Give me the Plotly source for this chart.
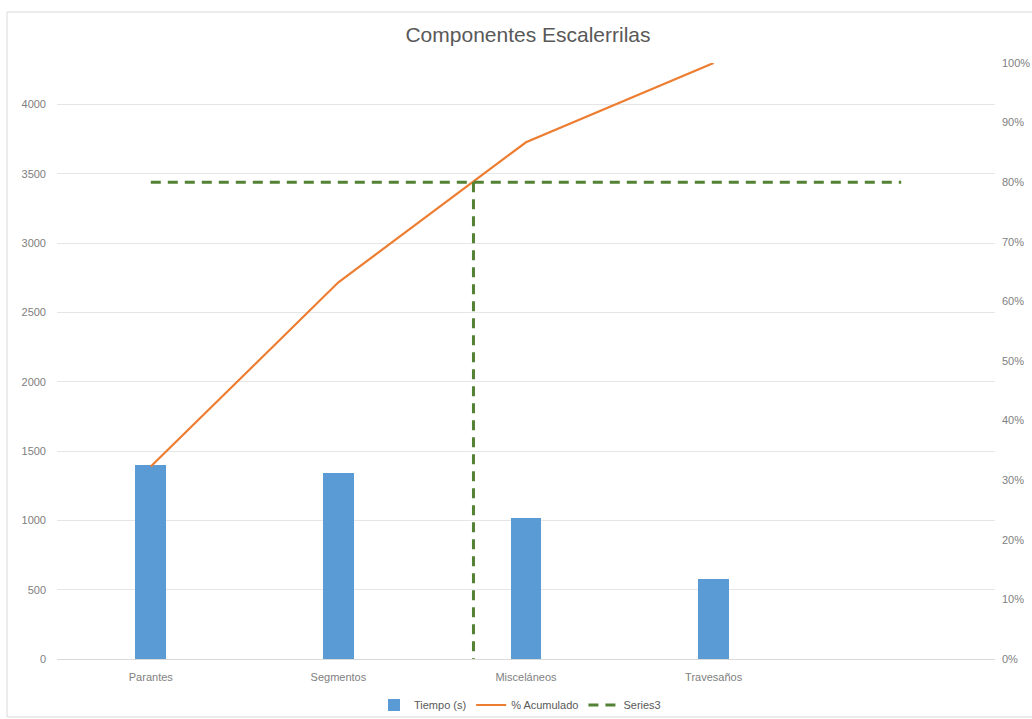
import plotly.graph_objects as go

# Component times and cumulative share
categorias = ["Parantes", "Segmentos", "Misceláneos", "Travesaños"]
tiempo_s = [1400, 1340, 1020, 575]
acumulado_pct = [0.323, 0.632, 0.867, 1.00]

# 80 % reference: horizontal line across categories, vertical drop at the crossing point
serie3_x = [0, 4, None, 1.72, 1.72]
serie3_y = [0.80, 0.80, None, 0.80, 0.0]

idx = list(range(len(categorias)))

W, H = 1032, 719
L, R, T, B = 57, 37, 63, 60
pw, ph = W - L - R, H - T - B

def px_x(p):
    return (p - L) / pw

def px_y(p):
    return (H - B - p) / ph

fig = go.Figure()

fig.add_trace(go.Bar(
    x=idx, y=tiempo_s, name="Tiempo (s)",
    marker=dict(color="#5B9BD5", line=dict(width=0)),
    width=0.165, yaxis="y",
))
fig.add_trace(go.Scatter(
    x=idx, y=acumulado_pct, name="% Acumulado", mode="lines",
    line=dict(color="#ED7D31", width=2.2), yaxis="y2",
))
fig.add_trace(go.Scatter(
    x=serie3_x, y=serie3_y, name="Series3", mode="lines",
    line=dict(color="#548235", width=3, dash="10px,7px"), yaxis="y2",
    connectgaps=False,
))

tick_font = dict(family="Liberation Sans", size=11, color="#808080")

fig.update_layout(
    width=W, height=H,
    margin=dict(l=L, r=R, t=T, b=B, pad=0, autoexpand=False),
    paper_bgcolor="white", plot_bgcolor="white",
    title=dict(
        text="Componentes Escalerrilas",
        font=dict(family="Liberation Sans", size=21, color="#595959"),
        x=px_x(528), xref="paper", xanchor="center",
        y=1 - 35 / H, yanchor="middle",
    ),
    xaxis=dict(
        range=[-0.5, 4.5], tickvals=idx, ticktext=categorias,
        showgrid=False, zeroline=False, showline=True,
        linecolor="#D9D9D9", linewidth=1, ticks="",
        tickfont=tick_font, ticklabelstandoff=8, automargin=False,
    ),
    yaxis=dict(
        range=[0, 4300], tickvals=list(range(0, 4001, 500)),
        showgrid=True, gridcolor="#E6E6E6", gridwidth=1,
        zeroline=False, showline=False, ticks="",
        tickfont=tick_font, ticklabelstandoff=10, automargin=False,
    ),
    yaxis2=dict(
        range=[0, 1], overlaying="y", side="right",
        tickvals=[i / 10 for i in range(11)], tickformat=".0%",
        showgrid=False, zeroline=False, showline=False, ticks="",
        tickfont=tick_font, ticklabelstandoff=6, automargin=False,
    ),
    legend=dict(
        orientation="h", x=px_x(520), xanchor="center",
        y=px_y(705), yanchor="middle",
        font=dict(family="Liberation Sans", size=11, color="#595959"),
        bgcolor="rgba(0,0,0,0)", itemwidth=30,
    ),
    bargap=0,
    showlegend=True,
)

# light frame around the chart area
fig.add_shape(
    type="rect", xref="paper", yref="paper",
    x0=px_x(7), x1=px_x(1045), y0=px_y(717), y1=px_y(12),
    line=dict(color="#D9D9D9", width=1), fillcolor="rgba(0,0,0,0)", layer="below",
)

fig.write_html("out.html")
